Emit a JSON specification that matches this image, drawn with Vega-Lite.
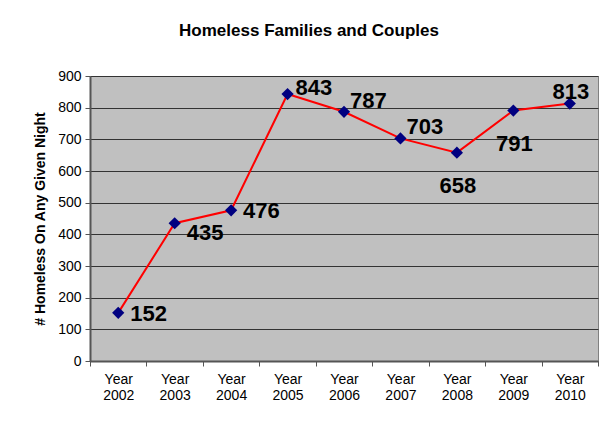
{
  "$schema": "https://vega.github.io/schema/vega-lite/v6.json",
  "width": 508,
  "height": 285,
  "autosize": "none",
  "padding": {"left": 90, "top": 76, "right": 7, "bottom": 60},
  "background": "white",
  "title": {
    "text": "Homeless Families and Couples",
    "font": "Liberation Sans",
    "fontSize": 17,
    "fontWeight": "bold",
    "color": "black",
    "anchor": "middle",
    "dx": -35,
    "offset": 29
  },
  "config": {
    "view": {"fill": "#C0C0C0", "stroke": "#808080", "strokeWidth": 1},
    "axis": {
      "labelFont": "Liberation Sans",
      "titleFont": "Liberation Sans",
      "labelColor": "black",
      "titleColor": "black",
      "domainColor": "#555555",
      "tickColor": "#555555",
      "gridColor": "#333333",
      "gridOpacity": 1
    }
  },
  "data": {
    "values": [
      {"year": "Year 2002", "value": 152},
      {"year": "Year 2003", "value": 435},
      {"year": "Year 2004", "value": 476},
      {"year": "Year 2005", "value": 843},
      {"year": "Year 2006", "value": 787},
      {"year": "Year 2007", "value": 703},
      {"year": "Year 2008", "value": 658},
      {"year": "Year 2009", "value": 791},
      {"year": "Year 2010", "value": 813}
    ]
  },
  "encoding": {
    "x": {
      "field": "year",
      "type": "nominal",
      "sort": null,
      "scale": {"paddingInner": 0, "paddingOuter": 0},
      "axis": {
        "title": null,
        "labelAngle": 0,
        "labelFontSize": 14,
        "labelExpr": "split(datum.label, ' ')",
        "labelLineHeight": 16,
        "labelPadding": 6,
        "tickBand": "extent",
        "tickSize": 5,
        "domainWidth": 2,
        "grid": false
      }
    },
    "y": {
      "field": "value",
      "type": "quantitative",
      "scale": {"domain": [0, 900], "nice": false},
      "axis": {
        "title": "# Homeless On Any Given Night",
        "titleFontSize": 14,
        "titleFontWeight": "bold",
        "titlePadding": 10,
        "values": [0, 100, 200, 300, 400, 500, 600, 700, 800, 900],
        "labelFontSize": 14,
        "tickSize": 5,
        "labelPadding": 4,
        "domainWidth": 2,
        "grid": true
      }
    }
  },
  "layer": [
    {"mark": {"type": "line", "color": "#FF0000", "strokeWidth": 2}},
    {"mark": {"type": "point", "shape": "diamond", "filled": true, "color": "#000080", "size": 150, "opacity": 1}},
    {
      "transform": [{"filter": "datum.year == 'Year 2002' || datum.year == 'Year 2004'"}],
      "mark": {"type": "text", "align": "left", "baseline": "middle", "dx": 12, "dy": 1, "font": "Liberation Sans", "fontSize": 22, "fontWeight": "bold", "color": "black"},
      "encoding": {"text": {"field": "value"}}
    },
    {
      "transform": [{"filter": "datum.year == 'Year 2003'"}],
      "mark": {"type": "text", "align": "left", "baseline": "middle", "dx": 12, "dy": 10, "font": "Liberation Sans", "fontSize": 22, "fontWeight": "bold", "color": "black"},
      "encoding": {"text": {"field": "value"}}
    },
    {
      "transform": [{"filter": "datum.year == 'Year 2005'"}],
      "mark": {"type": "text", "align": "left", "baseline": "middle", "dx": 8, "dy": -6, "font": "Liberation Sans", "fontSize": 22, "fontWeight": "bold", "color": "black"},
      "encoding": {"text": {"field": "value"}}
    },
    {
      "transform": [{"filter": "datum.year == 'Year 2006' || datum.year == 'Year 2007'"}],
      "mark": {"type": "text", "align": "left", "baseline": "middle", "dx": 6, "dy": -11, "font": "Liberation Sans", "fontSize": 22, "fontWeight": "bold", "color": "black"},
      "encoding": {"text": {"field": "value"}}
    },
    {
      "transform": [{"filter": "datum.year == 'Year 2008' || datum.year == 'Year 2009'"}],
      "mark": {"type": "text", "align": "center", "baseline": "middle", "dx": 1, "dy": 33, "font": "Liberation Sans", "fontSize": 22, "fontWeight": "bold", "color": "black"},
      "encoding": {"text": {"field": "value"}}
    },
    {
      "transform": [{"filter": "datum.year == 'Year 2010'"}],
      "mark": {"type": "text", "align": "center", "baseline": "middle", "dx": 1, "dy": -12, "font": "Liberation Sans", "fontSize": 22, "fontWeight": "bold", "color": "black"},
      "encoding": {"text": {"field": "value"}}
    }
  ]
}
